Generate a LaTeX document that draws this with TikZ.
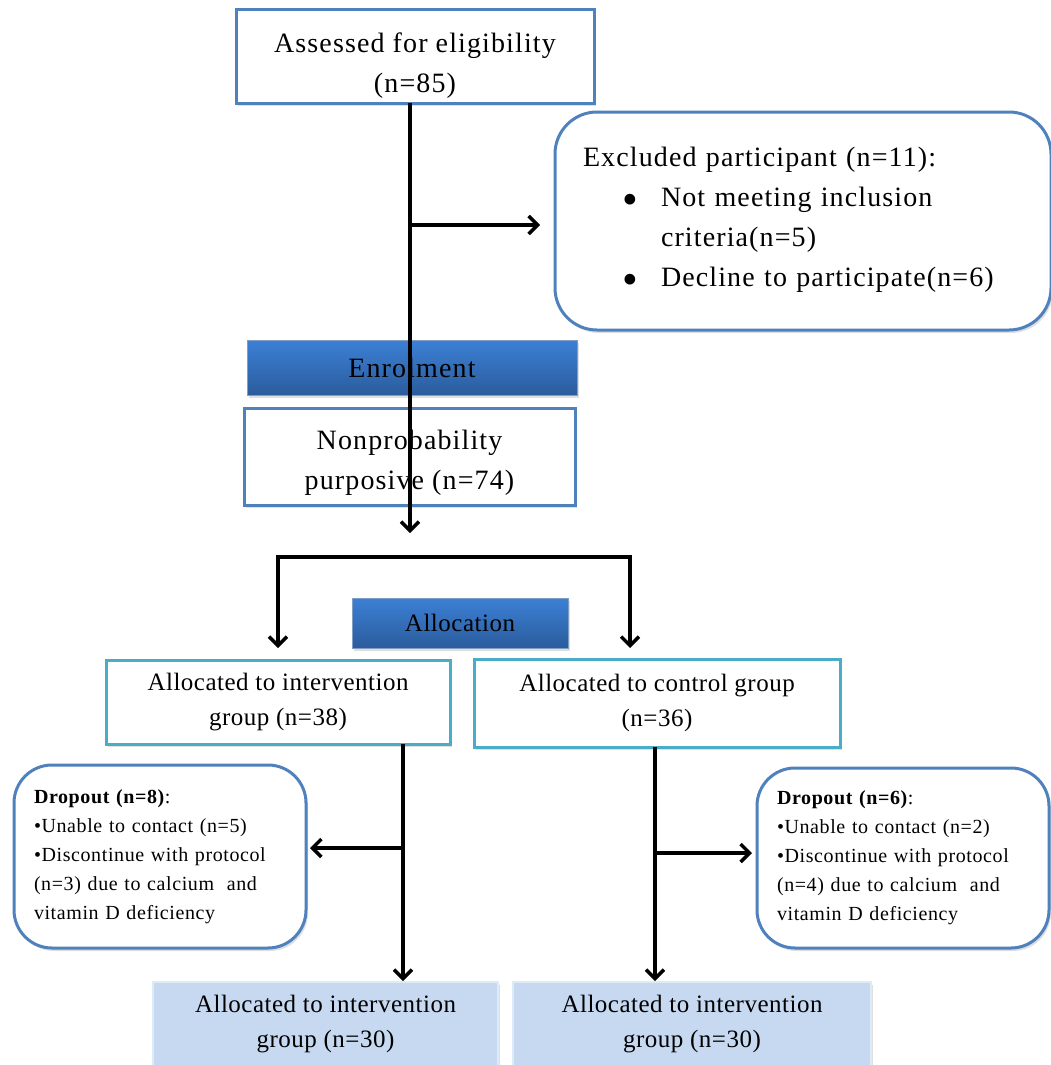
\documentclass[tikz,border=0pt]{standalone}
\usepackage{fontspec}
\usepackage{graphicx}
\setmainfont{Liberation Serif}
\usetikzlibrary{arrows.meta,shadows}
\definecolor{bblue}{HTML}{4F81BD}
\definecolor{teal}{HTML}{4BACC6}
\definecolor{bartop}{HTML}{3C80D6}
\definecolor{barbot}{HTML}{2B5C9C}
\definecolor{lfill}{HTML}{C6D9F1}
\definecolor{lborder}{HTML}{DCEBF6}
\newcommand\fbig{\fontsize{28}{40}\selectfont\addfontfeature{LetterSpace=4}}
\newcommand\fmid{\fontsize{25}{35}\selectfont\addfontfeature{LetterSpace=2}}
\newcommand\fsmall{\fontsize{20}{29}\selectfont\addfontfeature{LetterSpace=3}}
\newcommand\bigbullet{\raisebox{-8pt}{\scalebox{1.6}{\textbullet}}}
\begin{document}
\begin{tikzpicture}[x=1pt,y=-1pt,
  shad/.style={drop shadow={opacity=0.25,shadow xshift=2pt,shadow yshift=-3pt}},
  box/.style={draw=bblue,line width=3pt,fill=white,align=center,inner sep=0pt,shad},
  tbox/.style={draw=teal,line width=3pt,fill=white,align=center,inner sep=0pt,shad},
  rbox/.style={draw=bblue,line width=3pt,fill=white,align=left,inner ysep=0pt,shad},
  bar/.style={top color=bartop,bottom color=barbot,draw=barbot!60,line width=0.5pt,inner sep=0pt,shad},
  lbox/.style={fill=lfill,draw=lborder,line width=2.5pt,align=center,inner sep=0pt,shad},
  big/.style={font=\fbig},
  mid/.style={font=\fmid},
  small/.style={font=\fsmall},
  conn/.style={line width=3.5pt,-{Straight Barb[length=9pt,width=18pt]}},
  conn2/.style={line width=3.5pt,{Straight Barb[length=9pt,width=18pt]}-{Straight Barb[length=9pt,width=18pt]}}
]
\useasboundingbox (0,0) rectangle (1051,1065);
\fill[white] (0,0) rectangle (1051,1065);

\node[box,big,minimum width=358,minimum height=93] (assess) at (415,56.5) {\rule{0pt}{37.5pt}Assessed for eligibility\\(n=85)};

\node[rbox,big,rounded corners=42,minimum width=492,minimum height=218,text width=440,inner xsep=28pt] (excl) at (803,221)
{Excluded participant (n=11):\\
\hspace*{39pt}\makebox[39pt][l]{\bigbullet}Not meeting inclusion\\
\hspace*{78pt}criteria(n=5)\\
\hspace*{39pt}\makebox[39pt][l]{\bigbullet}Decline to participate(n=6)};

\node[bar,big,minimum width=330,minimum height=55] (enrol) at (412,367.5) {Enrolment};

\node[box,big,minimum width=331,minimum height=97] (nonprob) at (409.5,456.5) {\rule{0pt}{31.5pt}Nonprobability\\purposive (n=74)};

\node[bar,font={\fontsize{25}{30}\selectfont\addfontfeature{LetterSpace=2}},minimum width=216,minimum height=50] (alloc) at (460,623) {Allocation};

\node[tbox,mid,minimum width=344,minimum height=84] (interv) at (278,702) {Allocated to intervention\\group (n=38)};
\node[tbox,mid,minimum width=366,minimum height=88] (control) at (657,703) {Allocated to control group\\(n=36)};

\node[rbox,small,rounded corners=38,minimum width=292,minimum height=183,text width=252,inner xsep=20pt] (dropL) at (160,856.5)
{\textbf{Dropout (n=8)}:\\
\textbullet Unable to contact (n=5)\\
\textbullet Discontinue with protocol\\
(n=3) due to calcium\hspace{0.3em} and\\
vitamin D deficiency};

\node[rbox,small,rounded corners=38,minimum width=292,minimum height=180,text width=252,inner xsep=20pt] (dropR) at (903,858)
{\textbf{Dropout (n=6)}:\\
\textbullet Unable to contact (n=2)\\
\textbullet Discontinue with protocol\\
(n=4) due to calcium\hspace{0.3em} and\\
vitamin D deficiency};

\node[lbox,mid,minimum width=345,minimum height=85] (finL) at (325.5,1024.5) {Allocated to intervention\\group (n=30)};
\node[lbox,mid,minimum width=358,minimum height=85] (finR) at (692,1024.5) {Allocated to intervention\\group (n=30)};

% connectors
\coordinate (m0) at (410,103);
\coordinate (m1) at (410,225);
\coordinate (e1) at (540,225);
\coordinate (m2) at (410,533);
\draw[conn] (m0) -- (m2);
\draw[conn] (m1) -- (e1);

\coordinate (bl) at (278,648);
\coordinate (br) at (630,648);
\draw[conn2] (bl) -- (278,557) -- (630,557) -- (br);

\coordinate (l0) at (403,744);
\coordinate (l1) at (403,848);
\coordinate (l2) at (310,848);
\coordinate (l3) at (403,981);
\draw[conn] (l0) -- (l3);
\draw[conn] (l1) -- (l2);

\coordinate (r0) at (655,747);
\coordinate (r1) at (655,853);
\coordinate (r2) at (752,853);
\coordinate (r3) at (655,981);
\draw[conn] (r0) -- (r3);
\draw[conn] (r1) -- (r2);
\end{tikzpicture}
\end{document}
